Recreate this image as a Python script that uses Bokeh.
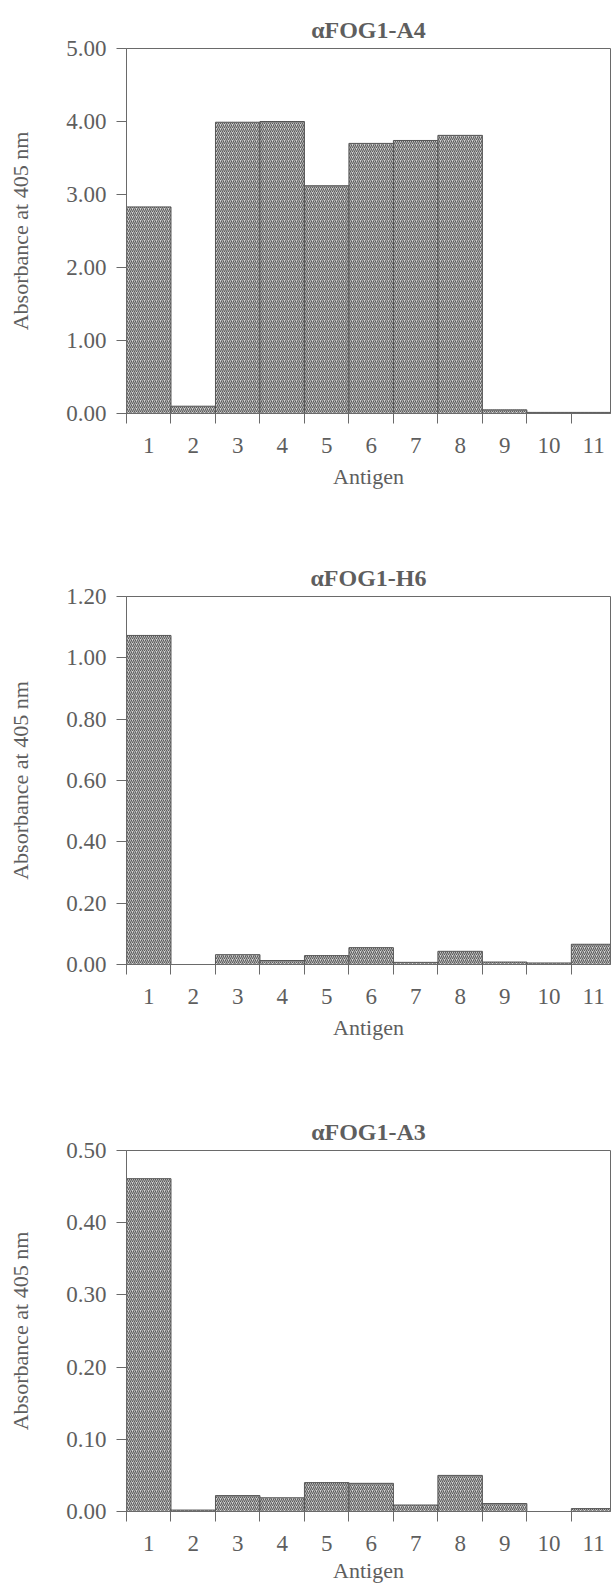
from bokeh.plotting import figure
from bokeh.layouts import column
from bokeh.models import FixedTicker, NumeralTickFormatter, Range1d, ColumnDataSource
from bokeh.embed import file_html
from bokeh.resources import INLINE

antigens = [1, 2, 3, 4, 5, 6, 7, 8, 9, 10, 11]
a4_values = [2.83, 0.10, 3.99, 4.00, 3.12, 3.70, 3.74, 3.81, 0.05, 0.015, 0.015]
h6_values = [1.073, 0.0, 0.032, 0.013, 0.029, 0.055, 0.007, 0.043, 0.008, 0.005, 0.066]
a3_values = [0.461, 0.002, 0.022, 0.019, 0.040, 0.039, 0.009, 0.050, 0.011, 0.0, 0.004]
titles = ["\u03b1FOG1-A4", "\u03b1FOG1-H6", "\u03b1FOG1-A3"]
y_max = [5.0, 1.2, 0.5]
y_steps = [[0, 1, 2, 3, 4, 5], [0, 0.2, 0.4, 0.6, 0.8, 1.0, 1.2], [0, 0.1, 0.2, 0.3, 0.4, 0.5]]
x_label = "Antigen"
y_label = "Absorbance at 405 nm"

FONT = "Liberation Serif"
TEXT = "#5e5e5e"
LINE = "#6a6a6a"

# layout: (height, border_top, border_bottom, xlabel standoff)
layouts = [(535, 48, 122, 8), (555, 61, 126, 8), (495, 60, 73, 4)]


def make(values, title, ymax, yticks, lay):
    h, bt, bb, xls = lay
    p = figure(width=611, height=h, output_backend="svg", toolbar_location=None,
               x_range=Range1d(0.5, 11.38), y_range=Range1d(0, ymax),
               min_border_left=126, min_border_right=1,
               min_border_top=bt, min_border_bottom=bb)
    src = ColumnDataSource(dict(x=antigens, top=values))
    p.vbar(x="x", top="top", bottom=0, width=1.0, source=src,
           fill_color="#d4d4d4", line_color="#555555", line_width=1,
           hatch_pattern="/", hatch_color="#5a5a5a", hatch_scale=4, hatch_weight=1.1)
    p.xgrid.visible = False
    p.ygrid.visible = False
    p.outline_line_color = LINE
    p.outline_line_width = 1

    p.title.text = title
    p.title.align = "center"
    p.title.text_font = FONT
    p.title.text_font_style = "bold"
    p.title.text_font_size = "24px"
    p.title.text_color = TEXT
    p.title.standoff = 12

    xa = p.xaxis[0]
    xa.ticker = FixedTicker(ticks=antigens, minor_ticks=[a - 0.5 for a in antigens] + [11.5])
    xa.major_tick_out = 0
    xa.major_tick_in = 0
    xa.minor_tick_out = 10
    xa.minor_tick_in = 0
    xa.minor_tick_line_color = LINE
    xa.axis_line_color = LINE
    xa.major_label_standoff = 14
    xa.major_label_text_font = FONT
    xa.major_label_text_font_size = "23px"
    xa.major_label_text_color = TEXT
    xa.axis_label = x_label
    xa.axis_label_text_font = FONT
    xa.axis_label_text_font_style = "normal"
    xa.axis_label_text_font_size = "22px"
    xa.axis_label_text_color = TEXT
    xa.axis_label_standoff = xls

    ya = p.yaxis[0]
    ya.ticker = FixedTicker(ticks=yticks, minor_ticks=[])
    ya.formatter = NumeralTickFormatter(format="0.00")
    ya.major_tick_out = 10
    ya.major_tick_in = 0
    ya.major_tick_line_color = LINE
    ya.axis_line_color = LINE
    ya.major_label_standoff = 10
    ya.major_label_text_font = FONT
    ya.major_label_text_font_size = "23px"
    ya.major_label_text_color = TEXT
    ya.axis_label = y_label
    ya.axis_label_text_font = FONT
    ya.axis_label_text_font_style = "normal"
    ya.axis_label_text_font_size = "22px"
    ya.axis_label_text_color = TEXT
    ya.axis_label_standoff = 30
    return p


figs = [make(v, t, m, s, l) for v, t, m, s, l in
        zip([a4_values, h6_values, a3_values], titles, y_max, y_steps, layouts)]
p = column(*figs, spacing=0)
open("out.html", "w").write(file_html(p, INLINE))
